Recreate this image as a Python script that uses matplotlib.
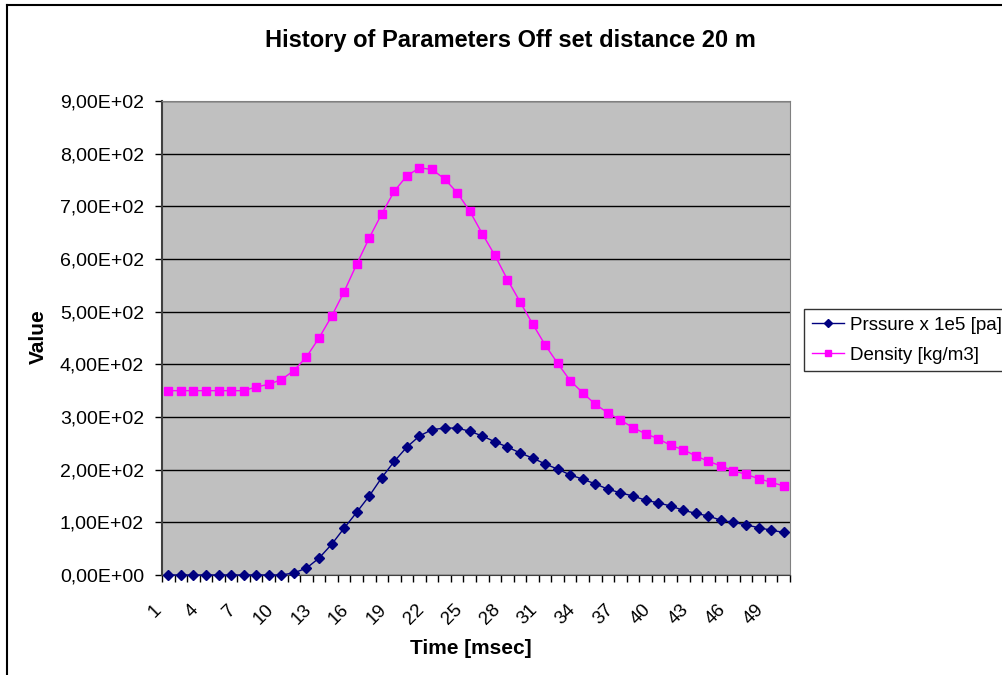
import numpy as np
import matplotlib.pyplot as plt
from matplotlib.lines import Line2D
from matplotlib.ticker import FuncFormatter, FixedLocator, NullFormatter
from matplotlib.transforms import ScaledTranslation

plt.rcParams['font.family'] = ['Liberation Sans', 'DejaVu Sans']

# data
time = list(range(1, 51))
pressure = [0, 0, 0, 0, 0, 0, 0, 0, 0, 0,
            4, 13, 32, 58, 89, 119, 150, 185, 216, 243,
            264, 276, 279, 279, 273, 264, 253, 243, 232, 222,
            211, 201, 190, 182, 173, 163, 156, 150, 142, 137,
            131, 123, 117, 112, 104, 100, 95, 90, 85, 81]
density = [350, 350, 350, 350, 350, 350, 350, 357, 362, 371,
           388, 414, 450, 491, 538, 590, 640, 686, 729, 758,
           773, 770, 752, 726, 691, 648, 607, 561, 519, 477,
           437, 402, 369, 346, 324, 308, 294, 280, 268, 259,
           246, 238, 226, 216, 207, 198, 191, 183, 176, 169]
y_ticks = [0, 100, 200, 300, 400, 500, 600, 700, 800, 900]

W, H = 1003, 675
fig = plt.figure(figsize=(W / 100, H / 100), dpi=100)
ax = fig.add_axes([162 / W, 1 - 575 / H, (790 - 162) / W, (575 - 101) / H])
ax.set_facecolor('#C0C0C0')

x = np.arange(len(time))
ax.plot(x, pressure, color='#000080', marker='D', markersize=5.5, linewidth=1,
        label='Prssure x 1e5 [pa]', clip_on=False, zorder=3)
ax.plot(x, density, color='#FF00FF', marker='s', markersize=6, linewidth=1,
        label='Density [kg/m3]', clip_on=False, zorder=3)

ax.set_xlim(-0.5, len(time) - 0.5)
ax.set_ylim(0, 900)
ax.set_yticks(y_ticks)
ax.yaxis.set_major_formatter(FuncFormatter(lambda v, p: f"{v:.2E}".replace('.', ',')))
ax.grid(axis='y', color='black', linewidth=1)
ax.set_axisbelow(True)

# ticks on category boundaries, labels every third category drawn as text
ax.xaxis.set_major_locator(FixedLocator(np.arange(-0.5, len(time), 1)))
ax.xaxis.set_major_formatter(NullFormatter())
ax.tick_params(axis='x', length=5, width=1, direction='out')
lab_tr = ax.get_xaxis_transform() + ScaledTranslation(-0.16, -0.26, fig.dpi_scale_trans)
for xi, t in zip(x[::3], time[::3]):
    ax.text(xi, 0, str(t), transform=lab_tr, fontsize=13.5, rotation=45,
            ha='right', va='top', rotation_mode='anchor', clip_on=False)
ax.tick_params(axis='y', length=5, width=1, direction='out', labelsize=14, pad=8)

for s in ['top', 'right']:
    ax.spines[s].set_color('#808080')
ax.spines['left'].set_color('#404040')
ax.spines['left'].set_linewidth(1.5)
ax.spines['bottom'].set_color('#404040')

fig.text(510 / W, 1 - 40 / H, 'History of Parameters Off set distance 20 m',
         fontsize=17, fontweight='bold', ha='center', va='center')
fig.text(471 / W, 1 - 648 / H, 'Time [msec]', fontsize=15, fontweight='bold',
         ha='center', va='center')
fig.text(38 / W, 1 - 337 / H, 'Value', fontsize=15, fontweight='bold',
         ha='center', va='center', rotation=90)

leg = fig.legend(loc='upper left', bbox_to_anchor=(804 / W, 1 - 309 / H),
                 fontsize=13.5, frameon=True, fancybox=False, edgecolor='black',
                 borderpad=0.4, handlelength=1.75, labelspacing=0.7,
                 handletextpad=0.3, borderaxespad=0, markerscale=0.8)
leg.get_frame().set_linewidth(1)

# chart area border, cut off at the right and bottom like the reference
fig.add_artist(Line2D([7 / W, 7 / W], [-0.1, 1 - 5 / H], color='black', linewidth=1.5))
fig.add_artist(Line2D([7 / W, 1.1], [1 - 5 / H, 1 - 5 / H], color='black', linewidth=1.5))

fig.savefig('out.png', dpi=100)
